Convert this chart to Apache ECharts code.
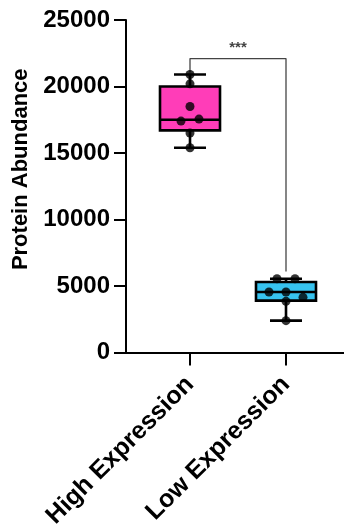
<!DOCTYPE html>
<html>
<head>
<meta charset="utf-8">
<script src="https://cdn.jsdelivr.net/npm/echarts@6/dist/echarts.min.js"></script>
<style>
html,body{margin:0;padding:0;background:#fff;}
#c{width:344px;height:531px;}
</style>
</head>
<body>
<div id="c"></div>
<script>
// ---- data ----
const categories = ['High Expression', 'Low Expression'];
// box stats: [min, Q1, median, Q3, max]
const highBox = [15400, 16700, 17500, 20000, 20900];
const lowBox = [2400, 3900, 4550, 5300, 5550];
// individual points
const highPoints = [20900, 20200, 18500, 17550, 17400, 16500, 15400];
const lowPoints = [5550, 5550, 4550, 4550, 4150, 3850, 2400];
const yTicks = [0, 5000, 10000, 15000, 20000, 25000];
const sigLabel = '***';
const sigBracket = { leftBottom: 21050, top: 22100, rightBottom: 6100 };

// ---- layout / style (not data) ----
const boxColors = ['#FF3DB8', '#37C3EF'];
const jitterPx = [
  [0, 0, 0, 9, -9, 0, 0],
  [-9, 9, -17, 0, 17, 0, 0]
];
const font = 'Liberation Sans, Arial, sans-serif';

const boxData = [highBox, lowBox].map((b, i) => [i].concat(b));
const pointData = [];
[highPoints, lowPoints].forEach((arr, ci) => {
  arr.forEach((v, pi) => {
    pointData.push({ value: [ci, v], symbolOffset: [jitterPx[ci][pi], 0] });
  });
});

function renderBox(params, api) {
  const x = api.value(0);
  const ci = params.dataIndex;
  const c = api.coord([x, api.value(1)]);
  const cx = c[0];
  const yMin = c[1];
  const yQ1 = api.coord([x, api.value(2)])[1];
  const yMed = api.coord([x, api.value(3)])[1];
  const yQ3 = api.coord([x, api.value(4)])[1];
  const yMax = api.coord([x, api.value(5)])[1];
  const halfW = 30, capHalf = 16, lw = 2.6;
  const st = { stroke: '#000', lineWidth: lw };
  return {
    type: 'group',
    children: [
      { type: 'line', shape: { x1: cx, y1: yMax, x2: cx, y2: yQ3 }, style: st },
      { type: 'line', shape: { x1: cx, y1: yQ1, x2: cx, y2: yMin }, style: st },
      { type: 'line', shape: { x1: cx - capHalf, y1: yMax, x2: cx + capHalf, y2: yMax }, style: st },
      { type: 'line', shape: { x1: cx - capHalf, y1: yMin, x2: cx + capHalf, y2: yMin }, style: st },
      { type: 'rect', shape: { x: cx - halfW, y: yQ3, width: 2 * halfW, height: yQ1 - yQ3 },
        style: { fill: boxColors[ci], stroke: '#000', lineWidth: lw } },
      { type: 'line', shape: { x1: cx - halfW, y1: yMed, x2: cx + halfW, y2: yMed }, style: st }
    ]
  };
}

const chart = echarts.init(document.getElementById('c'), null, { renderer: 'canvas' });
chart.setOption({
  animation: false,
  backgroundColor: '#fff',
  grid: { left: 126, right: 0, top: 20, bottom: 175, containLabel: false },
  xAxis: {
    type: 'value',
    min: -0.6667,
    max: 1.6042,
    splitLine: { show: false },
    axisLine: { show: true, onZero: false, lineStyle: { color: '#000', width: 2 } },
    axisTick: { show: true, customValues: [0, 1], length: 13, lineStyle: { color: '#000', width: 2 } },
    axisLabel: {
      customValues: [0, 1],
      formatter: v => categories[Math.round(v)],
      rotate: 45,
      margin: 28,
      color: '#000',
      fontFamily: font,
      fontWeight: 'bold',
      fontSize: 25
    }
  },
  yAxis: {
    type: 'value',
    min: 0,
    max: 25000,
    interval: 5000,
    name: 'Protein Abundance',
    nameLocation: 'middle',
    nameGap: 90,
    nameTextStyle: { color: '#000', fontFamily: font, fontWeight: 'bold', fontSize: 22, padding: [0, 0, 0, 34] },
    splitLine: { show: false },
    axisLine: { show: true, onZero: false, lineStyle: { color: '#000', width: 2 } },
    axisTick: { show: true, length: 12, lineStyle: { color: '#000', width: 2 } },
    axisLabel: {
      margin: 16,
      color: '#000',
      fontFamily: font,
      fontWeight: 'bold',
      fontSize: 24,
      formatter: v => (yTicks.indexOf(v) >= 0 ? String(v) : '')
    }
  },
  series: [
    {
      type: 'line',
      data: [[0, sigBracket.leftBottom], [0, sigBracket.top], [1, sigBracket.top], [1, sigBracket.rightBottom]],
      symbol: 'none',
      lineStyle: { color: '#444', width: 1.3 },
      z: 1
    },
    {
      type: 'scatter',
      data: [[0.5, sigBracket.top]],
      symbolSize: 0,
      label: { show: true, formatter: sigLabel, position: 'top', distance: 3, color: '#111', fontFamily: font, fontWeight: 'bold', fontSize: 15 },
      z: 1
    },
    {
      type: 'custom',
      renderItem: renderBox,
      encode: { x: 0, y: [1, 2, 3, 4, 5] },
      data: boxData,
      z: 2
    },
    {
      type: 'scatter',
      data: pointData,
      symbol: 'circle',
      symbolSize: 9,
      itemStyle: { color: '#000' },
      z: 3
    }
  ]
});
</script>
</body>
</html>
